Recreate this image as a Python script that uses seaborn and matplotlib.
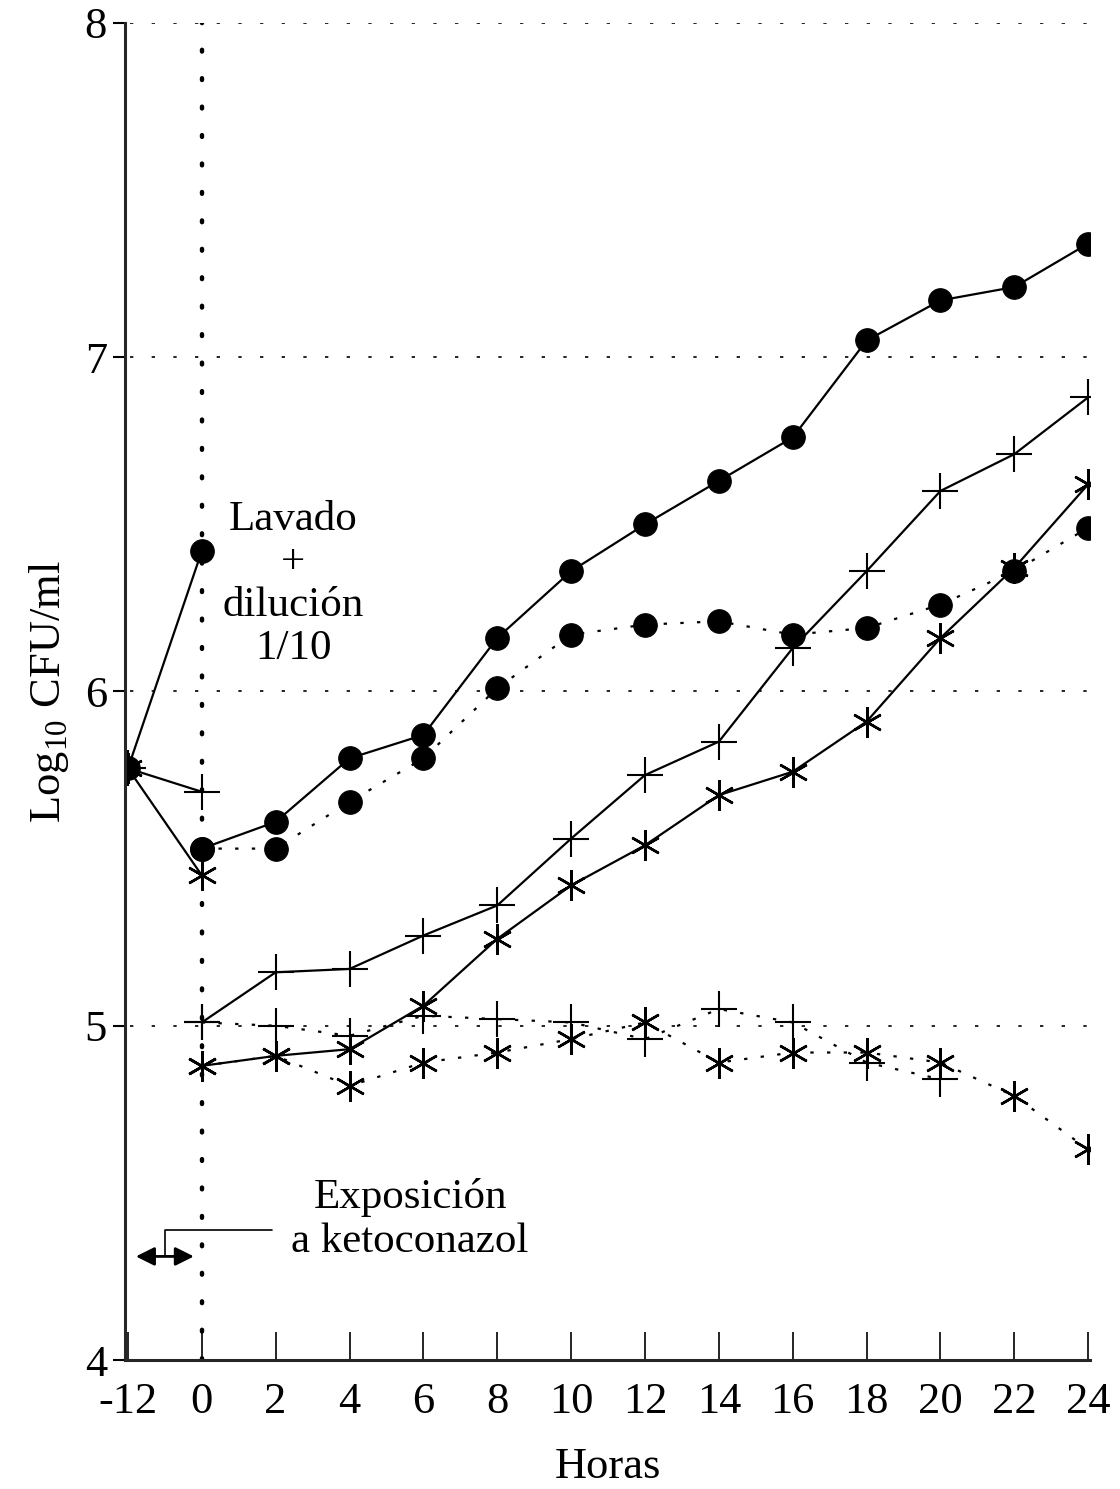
import matplotlib
matplotlib.use("Agg")
import matplotlib.pyplot as plt
import seaborn as sns

hours = [-12, 0, 2, 4, 6, 8, 10, 12, 14, 16, 18, 20, 22, 24]
post_hours = hours[1:]

# pre-wash (-12 -> 0)
pre_circle = [5.77, 6.42]
pre_plus = [5.77, 5.70]
pre_star = [5.77, 5.45]

# after wash + dilution (0 -> 24)
circle_solid = [5.53, 5.61, 5.80, 5.87, 6.16, 6.36, 6.50, 6.63, 6.76, 7.05, 7.17, 7.21, 7.34]
circle_dotted = [5.53, 5.53, 5.67, 5.80, 6.01, 6.17, 6.20, 6.21, 6.17, 6.19, 6.26, 6.36, 6.49]
plus_solid = [5.01, 5.16, 5.17, 5.27, 5.36, 5.56, 5.75, 5.85, 6.13, 6.36, 6.60, 6.71, 6.88]
plus_dotted = [5.01, 5.00, 4.97, 5.03, 5.02, 5.01, 4.96, 5.05, 5.01, 4.89, 4.84]
star_solid = [4.88, 4.91, 4.93, 5.06, 5.26, 5.42, 5.54, 5.69, 5.76, 5.91, 6.16, 6.37, 6.62]
star_dotted = [4.88, 4.91, 4.82, 4.89, 4.92, 4.96, 5.01, 4.89, 4.92, 4.92, 4.89, 4.79, 4.63]

y_ticks = [4, 5, 6, 7, 8]

pos = {h: i for i, h in enumerate(hours)}

sns.set_style("ticks")
plt.rcParams['font.family'] = ['Liberation Serif', 'DejaVu Serif']
plt.rcParams['mathtext.fontset'] = 'custom'
plt.rcParams['mathtext.rm'] = 'Liberation Serif'
plt.rcParams['text.color'] = 'black'
plt.rcParams['axes.labelcolor'] = 'black'
plt.rcParams['xtick.color'] = 'black'
plt.rcParams['ytick.color'] = 'black'

fig = plt.figure(figsize=(11.2, 14.89), dpi=100)
ax = fig.add_axes([0.1116, 0.0866, 0.862, 0.898])

# grid lines and the exposure marker line
for yv in y_ticks[1:]:
    ax.plot([0.03, 13.03], [yv, yv], color="black", lw=1.2, linestyle=(0, (2, 11)), zorder=1)
ax.axvline(pos[0], color="black", lw=3.2, linestyle=(0, (0.4, 6)), dash_capstyle="round", zorder=1)

circle = dict(marker="o", markersize=17, markeredgecolor="black", markerfacecolor="black")
plus = dict(marker="+", markersize=26, markeredgewidth=1.5, markeredgecolor="black")
star = dict(marker=(6, 2, 0), markersize=22, markeredgewidth=1.8, markeredgecolor="black")

solid = dict(color="black", lw=1.6)
dotted = dict(color="black", lw=1.6, linestyle=(0, (1.5, 6)))

px = [pos[-12], pos[0]]
sns.lineplot(x=px, y=pre_circle, ax=ax, **solid, **circle)
sns.lineplot(x=px, y=pre_plus, ax=ax, **solid, **plus)
sns.lineplot(x=px, y=pre_star, ax=ax, **solid, **star)

xp = [pos[h] for h in post_hours]
sns.lineplot(x=xp, y=circle_solid, ax=ax, **solid, **circle)
sns.lineplot(x=xp, y=circle_dotted, ax=ax, **dotted, **circle)
sns.lineplot(x=xp, y=plus_solid, ax=ax, **solid, **plus)
sns.lineplot(x=xp[:len(plus_dotted)], y=plus_dotted, ax=ax, **dotted, **plus)
sns.lineplot(x=xp, y=star_solid, ax=ax, **solid, **star)
sns.lineplot(x=xp, y=star_dotted, ax=ax, **dotted, **star)

ax.set_xlim(-0.04, 13.03)
ax.set_ylim(4, 8)
ax.set_xticks(range(len(hours)))
ax.set_xticklabels([str(h) for h in hours])
ax.set_yticks(y_ticks)
ax.tick_params(axis="x", direction="in", length=20, width=1.2, labelsize=32, pad=16)
ax.tick_params(axis="y", direction="out", length=9, width=1.5, labelsize=32, pad=4)
sns.despine(ax=ax)
ax.spines["left"].set_linewidth(2.2)
ax.spines["bottom"].set_linewidth(2.2)

ax.set_xlabel("Horas", fontsize=32, labelpad=18)
ax.set_ylabel("Log$_{\\mathrm{10}}$ CFU/ml", fontsize=32, labelpad=10)

ax.text(2.24, 6.32, "Lavado\n+\ndilución\n1/10", ha="center", va="center",
        fontsize=31, linespacing=1.15)
ax.text(3.82, 4.42, "Exposición\na ketoconazol", ha="center", va="center",
        fontsize=31, linespacing=1.2)

# bracket + double arrow for the exposure period
ax.plot([0.5, 0.5, 1.95], [4.31, 4.39, 4.39], color="black", lw=1.2)
ax.annotate("", xy=(0.07, 4.31), xytext=(0.93, 4.31),
            arrowprops=dict(arrowstyle="<|-|>", color="black", lw=2, mutation_scale=28))

fig.savefig("out.png", dpi=100)
